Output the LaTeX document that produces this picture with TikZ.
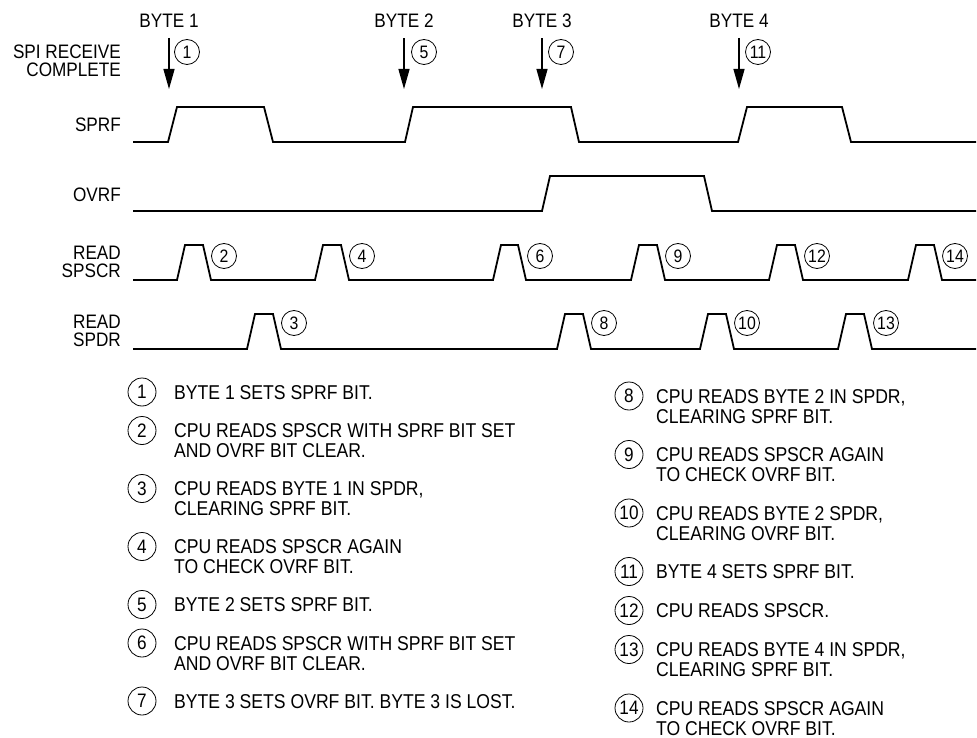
\documentclass[tikz,border=0pt]{standalone}
\usepackage{fontspec}
\setmainfont{Liberation Sans}[FakeStretch=0.88]
\usetikzlibrary{arrows.meta}

\begin{document}
\begin{tikzpicture}[
    x=1pt, y=-1pt,
    sig/.style={line width=1.8pt, line join=miter},
    sigarrow/.style={-{Triangle[length=20pt, width=11pt]}, line width=1.3pt},
    siglabel/.style={anchor=east, align=right, inner sep=0pt, font=\fontsize{19.5}{18}\selectfont},
    bytelabel/.style={inner xsep=0pt, inner ysep=10pt, font=\fontsize{19.5}{18}\selectfont},
    marker/.style={circle, draw, line width=0.8pt, minimum size=25pt, inner sep=0pt, font=\fontsize{18}{18}\selectfont},
    legnum/.style={circle, draw, line width=0.8pt, minimum size=28pt, inner sep=0pt, font=\fontsize{19.5}{20}\selectfont},
    legtext/.style={anchor=north west, align=left, inner sep=0pt, font=\fontsize{20}{20}\selectfont},
]
\useasboundingbox (0,0) rectangle (977,738);

% signal names
\node[siglabel] (lbl_spi) at (121,61) {SPI RECEIVE\\COMPLETE};
\node[siglabel] (lbl_sprf) at (121,125) {SPRF};
\node[siglabel] (lbl_ovrf) at (121,195) {OVRF};
\node[siglabel] (lbl_spscr) at (121,262) {READ\\SPSCR};
\node[siglabel] (lbl_spdr) at (121,331) {READ\\SPDR};

% receive complete arrows
\node[bytelabel] (byte_1) at (169,21) {BYTE 1};
\node[bytelabel] (byte_2) at (404,21) {BYTE 2};
\node[bytelabel] (byte_3) at (542,21) {BYTE 3};
\node[bytelabel] (byte_4) at (739,21) {BYTE 4};
\coordinate (tip_1) at (169,89);
\coordinate (tip_2) at (404,89);
\coordinate (tip_3) at (542,89);
\coordinate (tip_4) at (739,89);
\draw[sigarrow] (byte_1) -- (tip_1);
\draw[sigarrow] (byte_2) -- (tip_2);
\draw[sigarrow] (byte_3) -- (tip_3);
\draw[sigarrow] (byte_4) -- (tip_4);
\node[marker] (mk_1) at (187,52) {1};
\node[marker] (mk_5) at (424,52) {5};
\node[marker] (mk_7) at (561,52) {7};
\node[marker] (mk_11) at (758,52) {11};

% waveforms
\draw[sig] (133,142) -- (168,142) -- (177,107) -- (264,107) -- (273,142) -- (405,142) -- (413,107) -- (571,107)
    -- (579,142) -- (738,142) -- (747,107) -- (842,107) -- (851,142) -- (976,142);
\draw[sig] (133,211) -- (542,211) -- (550,176) -- (704,176) -- (712,211) -- (976,211);
\draw[sig] (133,280) -- (177,280) -- (185,245) -- (203,245) -- (211,280) -- (315,280) -- (323,245) -- (341,245)
    -- (349,280) -- (493,280) -- (501,245) -- (518,245) -- (526,280) -- (631,280) -- (639,245) -- (657,245)
    -- (665,280) -- (769,280) -- (777,245) -- (795,245) -- (803,280) -- (908,280) -- (916,245) -- (934,245)
    -- (942,280) -- (976,280);
\draw[sig] (133,349) -- (247,349) -- (255,314) -- (273,314) -- (281,349) -- (557,349) -- (565,314) -- (583,314)
    -- (591,349) -- (700,349) -- (708,314) -- (726,314) -- (734,349) -- (838,349) -- (846,314) -- (864,314)
    -- (872,349) -- (976,349);

% read markers
\node[marker] (mk_2) at (224,256) {2};
\node[marker] (mk_4) at (362,256) {4};
\node[marker] (mk_6) at (540,256) {6};
\node[marker] (mk_9) at (678,256) {9};
\node[marker] (mk_12) at (817,256) {12};
\node[marker] (mk_14) at (955,256) {14};
\node[marker] (mk_3) at (294,323) {3};
\node[marker] (mk_8) at (604,323) {8};
\node[marker] (mk_10) at (747,323) {10};
\node[marker] (mk_13) at (886,323) {13};

% legend, left column
\node[legnum] (leg_1) at (142,392) {1};
\node[legtext] (txt_1) at (174,385) {BYTE 1 SETS SPRF BIT.};
\node[legnum] (leg_2) at (142,430.5) {2};
\node[legtext] (txt_2) at (174,423.5) {CPU READS SPSCR WITH SPRF BIT SET\\AND OVRF BIT CLEAR.};
\node[legnum] (leg_3) at (142,488.5) {3};
\node[legtext] (txt_3) at (174,481.5) {CPU READS BYTE 1 IN SPDR,\\CLEARING SPRF BIT.};
\node[legnum] (leg_4) at (142,546.5) {4};
\node[legtext] (txt_4) at (174,539.5) {CPU READS SPSCR AGAIN\\TO CHECK OVRF BIT.};
\node[legnum] (leg_5) at (142,604.5) {5};
\node[legtext] (txt_5) at (174,597.5) {BYTE 2 SETS SPRF BIT.};
\node[legnum] (leg_6) at (142,643) {6};
\node[legtext] (txt_6) at (174,636) {CPU READS SPSCR WITH SPRF BIT SET\\AND OVRF BIT CLEAR.};
\node[legnum] (leg_7) at (142,701) {7};
\node[legtext] (txt_7) at (174,694) {BYTE 3 SETS OVRF BIT. BYTE 3 IS LOST.};

% legend, right column
\node[legnum] (leg_8) at (629,396) {8};
\node[legtext] (txt_8) at (656,389) {CPU READS BYTE 2 IN SPDR,\\CLEARING SPRF BIT.};
\node[legnum] (leg_9) at (629,454.5) {9};
\node[legtext] (txt_9) at (656,447.5) {CPU READS SPSCR AGAIN\\TO CHECK OVRF BIT.};
\node[legnum] (leg_10) at (629,513) {10};
\node[legtext] (txt_10) at (656,506) {CPU READS BYTE 2 SPDR,\\CLEARING OVRF BIT.};
\node[legnum] (leg_11) at (629,571.5) {11};
\node[legtext] (txt_11) at (656,564.5) {BYTE 4 SETS SPRF BIT.};
\node[legnum] (leg_12) at (629,610.5) {12};
\node[legtext] (txt_12) at (656,603.5) {CPU READS SPSCR.};
\node[legnum] (leg_13) at (629,649.5) {13};
\node[legtext] (txt_13) at (656,642.5) {CPU READS BYTE 4 IN SPDR,\\CLEARING SPRF BIT.};
\node[legnum] (leg_14) at (629,708) {14};
\node[legtext] (txt_14) at (656,701) {CPU READS SPSCR AGAIN\\TO CHECK OVRF BIT.};
\end{tikzpicture}
\end{document}
